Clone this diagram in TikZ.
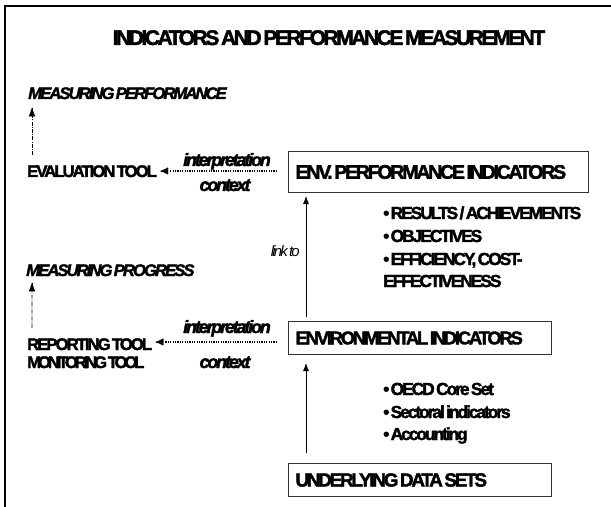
\documentclass[tikz,border=0pt]{standalone}
\usepackage{fontspec}
\setmainfont{Liberation Sans}[LetterSpace=-12,WordSpace=0.5,
  BoldFeatures={FakeBold=2},BoldItalicFeatures={FakeBold=2}]
\usetikzlibrary{arrows.meta}
\begin{document}
\begin{tikzpicture}[x=1bp,y=-1bp,
  frameline/.style={line width=1.2bp,black},
  title/.style={font=\bfseries\fontsize{21.2}{24}\selectfont,inner sep=0,anchor=base},
  lbl/.style={font=\bfseries\fontsize{16.8}{19}\selectfont,inner sep=0,anchor=base west},
  itlbl/.style={font=\bfseries\itshape\fontsize{16.8}{19}\selectfont,inner sep=0,anchor=base west},
  note/.style={font=\bfseries\itshape\fontsize{18}{20}\selectfont,inner sep=0,anchor=base},
  bullet/.style={font=\bfseries\fontsize{17.5}{20}\selectfont,inner sep=0,anchor=base west},
  databox/.style={draw=black!80,line width=1bp,anchor=north west,rectangle,
    inner xsep=7bp,inner ysep=0},
  boxfont/.style={font=\bfseries\fontsize{#1}{22}\selectfont},
  solidarr/.style={line width=0.8bp,-{Latex[length=8bp,width=6bp]}},
  dotline/.style={line width=1.4bp,dash pattern=on 1.2bp off 1.2bp,shorten >=10bp},
  dashline/.style={line width=0.6bp,dash pattern=on 4bp off 1.2bp on 1bp off 1.2bp,shorten >=8bp},
  hhead/.style={line width=0.1bp,-{Latex[length=8bp,width=7bp]}},
  vhead/.style={line width=0.1bp,-{Latex[length=9bp,width=6.5bp]}}
]
\useasboundingbox (0,0) rectangle (611,507);
% page frame: top and left rules only
\draw[frameline] (5,507) -- (5,6) -- (611,6);

\node[title] (ttl) at (329,45) {INDICATORS AND PERFORMANCE MEASUREMENT};

% left column
\node[itlbl] (mperf) at (28,99) {MEASURING PERFORMANCE};
\node[lbl] (eval) at (27,177) {EVALUATION TOOL};
\node[itlbl] (mprog) at (26,276) {MEASURING PROGRESS};
\node[lbl] (rep) at (27,350) {REPORTING TOOL};
\node[lbl,font=\bfseries\fontsize{16.8}{19}\selectfont\addfontfeature{LetterSpace=-19}] (mon) at (27,368) {MONITORING TOOL};

% boxes
\node[databox,boxfont=19.8,minimum width=300bp,minimum height=41bp] (epi) at (288,151)
  {\makebox[286bp][l]{ENV. PERFORMANCE INDICATORS}};
\node[databox,boxfont=18.5,minimum width=263bp,minimum height=33bp] (envi) at (288,321)
  {\makebox[249bp][l]{ENVIRONMENTAL INDICATORS}};
\node[databox,boxfont=19,minimum width=263bp,minimum height=33bp] (und) at (288,463)
  {\makebox[249bp][l]{UNDERLYING DATA SETS}};

% interpretation / context labels
\node[note] (int1) at (227,166) {interpretation};
\node[note] (ctx1) at (225,191) {context};
\node[note] (int2) at (227,333) {interpretation};
\node[note] (ctx2) at (225,368) {context};
\node[font=\itshape\fontsize{15}{16}\selectfont,inner sep=0,anchor=base east] (link) at (300,256) {link to};

% bullet lists
\node[bullet] (b1) at (383,219) {\textbullet\ RESULTS / ACHIEVEMENTS};
\node[bullet] (b2) at (383,242) {\textbullet\ OBJECTIVES};
\node[bullet] (b3) at (383,265) {\textbullet\ EFFICIENCY, COST-};
\node[bullet] (b4) at (383,287) {EFFECTIVENESS};
\node[bullet] (c1) at (383,395) {\textbullet\ OECD Core Set};
\node[bullet] (c2) at (383,418) {\textbullet\ Sectoral indicators};
\node[bullet] (c3) at (383,440) {\textbullet\ Accounting};

% solid links between the boxes
\draw[solidarr] ([xshift=18bp,yshift=4bp]envi.north west) -- ([xshift=18bp,yshift=-3bp]epi.south west);
\draw[solidarr] ([xshift=18bp,yshift=10bp]und.north west) -- ([xshift=18bp,yshift=-8bp]envi.south west);

% dotted "interpretation / context" arrows, head drawn solid
\coordinate (s1) at ([xshift=-11bp,yshift=1bp]epi.west);
\coordinate (t1) at ([xshift=3bp]s1 -| eval.east);
\draw[dotline] (s1) -- (t1);
\draw[hhead] ([xshift=1bp]t1) -- (t1);
\coordinate (s2) at ([xshift=-11bp,yshift=-4bp]envi.west);
\coordinate (t2) at ([xshift=3bp]s2 -| rep.east);
\draw[dotline] (s2) -- (t2);
\draw[hhead] ([xshift=1bp]t2) -- (t2);

% dash-dotted upward arrows
\coordinate (u1) at ([xshift=5bp,yshift=10bp]eval.north west);
\coordinate (v1) at ([xshift=4bp,yshift=-8bp]mperf.south west);
\draw[dashline] (u1) -- (v1);
\draw[vhead] ([yshift=-1bp]v1) -- (v1);
\coordinate (u2) at ([xshift=5bp,yshift=10bp]rep.north west);
\coordinate (v2) at ([xshift=6bp,yshift=-6bp]mprog.south west);
\draw[dashline] (u2) -- (v2);
\draw[vhead] ([yshift=-1bp]v2) -- (v2);
\end{tikzpicture}
\end{document}
